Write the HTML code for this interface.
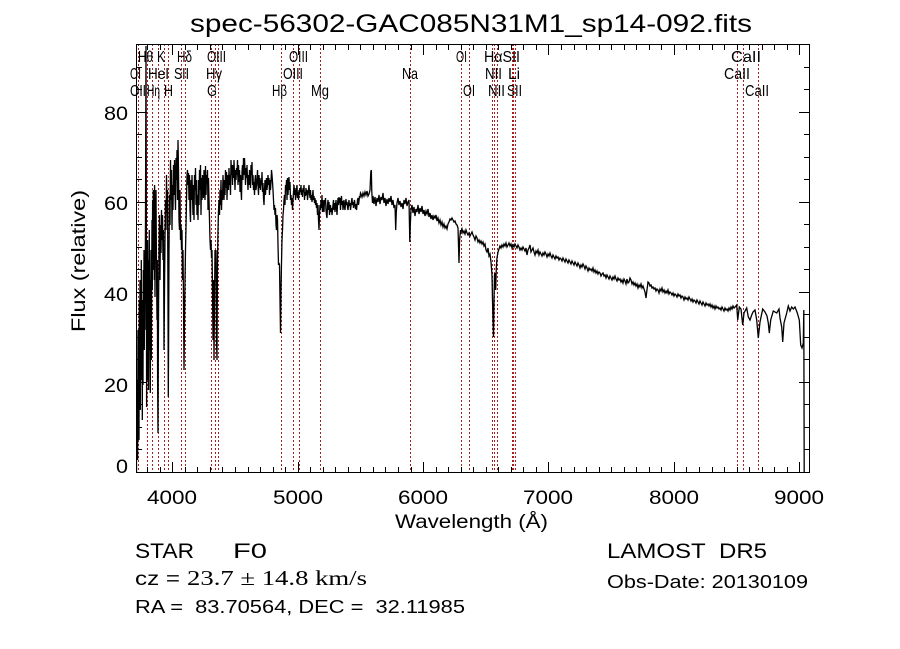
<!DOCTYPE html>
<html><head><meta charset="utf-8"><style>
html,body{margin:0;padding:0;background:#fff;}
svg{display:block;}
text{font-family:"Liberation Sans",sans-serif;fill:#000;}
</style></head><body>
<svg width="900" height="649" viewBox="0 0 900 649" xmlns="http://www.w3.org/2000/svg">
<rect width="900" height="649" fill="#fff"/>
<defs><clipPath id="pc"><rect x="136" y="44" width="674" height="429"/></clipPath></defs>

<text x="190" y="32" font-size="25" textLength="562" lengthAdjust="spacingAndGlyphs">spec-56302-GAC085N31M1_sp14-092.fits</text>

<g stroke="#a81e1e" stroke-width="1" stroke-dasharray="2,2" fill="none">
<path d="M138.5 44V472M147.5 44V472M152.5 44V472M158.5 44V472M164.5 44V472M168.5 44V472M181.5 44V472M185.5 44V472M211.5 44V472M215.5 44V472M218.5 44V472M281.5 44V472M293.5 44V472M299.5 44V472M320.5 44V472M410.5 44V472M461.5 44V472M469.5 44V472M492.5 44V472M494.5 44V472M497.5 44V472M512.5 44V472M513.5 44V472M515.5 44V472M737.5 44V472M743.5 44V472M758.5 44V472"/>
</g>

<g font-size="16">
<text x="138" y="62" textLength="15" lengthAdjust="spacingAndGlyphs">Hθ</text>
<text x="157" y="62" textLength="8" lengthAdjust="spacingAndGlyphs">K</text>
<text x="177" y="62" textLength="15" lengthAdjust="spacingAndGlyphs">Hδ</text>
<text x="207" y="62" textLength="19" lengthAdjust="spacingAndGlyphs">OIII</text>
<text x="289" y="62" textLength="19" lengthAdjust="spacingAndGlyphs">OIII</text>
<text x="456" y="62" textLength="11" lengthAdjust="spacingAndGlyphs">OI</text>
<text x="484" y="62" textLength="36" lengthAdjust="spacingAndGlyphs">HαSII</text>
<text x="731" y="62" textLength="30" lengthAdjust="spacingAndGlyphs">CaII</text>

<text x="130" y="79" textLength="11" lengthAdjust="spacingAndGlyphs">OI</text>
<text x="148" y="79" textLength="21" lengthAdjust="spacingAndGlyphs">HeI</text>
<text x="174" y="79" textLength="15" lengthAdjust="spacingAndGlyphs">SII</text>
<text x="206" y="79" textLength="16" lengthAdjust="spacingAndGlyphs">Hγ</text>
<text x="283" y="79" textLength="20" lengthAdjust="spacingAndGlyphs">OIII</text>
<text x="402" y="79" textLength="16" lengthAdjust="spacingAndGlyphs">Na</text>
<text x="485" y="79" textLength="17" lengthAdjust="spacingAndGlyphs">NII</text>
<text x="508" y="79" textLength="12" lengthAdjust="spacingAndGlyphs">Li</text>
<text x="724" y="79" textLength="26" lengthAdjust="spacingAndGlyphs">CaII</text>

<text x="130" y="96" textLength="16" lengthAdjust="spacingAndGlyphs">OII</text>
<text x="147" y="96" textLength="13" lengthAdjust="spacingAndGlyphs">Hη</text>
<text x="164" y="96" textLength="9" lengthAdjust="spacingAndGlyphs">H</text>
<text x="207" y="96" textLength="10" lengthAdjust="spacingAndGlyphs">G</text>
<text x="272" y="96" textLength="15" lengthAdjust="spacingAndGlyphs">Hβ</text>
<text x="311" y="96" textLength="18" lengthAdjust="spacingAndGlyphs">Mg</text>
<text x="463" y="96" textLength="12" lengthAdjust="spacingAndGlyphs">OI</text>
<text x="488" y="96" textLength="17" lengthAdjust="spacingAndGlyphs">NII</text>
<text x="507" y="96" textLength="15" lengthAdjust="spacingAndGlyphs">SII</text>
<text x="745" y="96" textLength="24" lengthAdjust="spacingAndGlyphs">CaII</text>
</g>

<g clip-path="url(#pc)">
<polyline fill="none" stroke="#000" stroke-width="1.3" stroke-linejoin="miter" points="
136.5,472 136.5,420 137,445 137.3,380 137.6,460 138,330 138.3,420 138.6,350 139,440 139.3,300 139.6,400 140,280 140.3,410 140.6,330 141,380 141.3,260 141.6,360 142,300 142.3,420 142.6,310 143,385 143.3,270 143.6,340 144,250 144.3,350 144.6,290 145,330 145.5,220 146,46 146.3,200 146.6,407 147,300 147.3,380 147.6,240 148,330 148.3,260 148.6,390 149,300 149.3,230 149.6,350 150,280 150.3,393 150.6,320 151,250 151.3,360 151.6,300 152,220 152.3,290 152.6,200 153,270 153.3,190 153.6,260 154,200 154.3,280 154.6,185 155,297 155.3,215 155.6,250 156,190 156.3,240 156.6,280 157,320 157.3,260 157.6,380 158,433 158.3,360 158.6,300 159,250 159.5,215 160,280 160.5,225 161,253 161.5,210 162,240 162.5,215 163,260 163.5,230 164,350 164.5,290 165,240 165.5,200 166,230 166.5,175 167,213 167.5,190 168,300 168.3,397 168.6,340 169,250 169.5,195 170,225 170.5,160 171,200 171.5,170 172,230 172.5,185 173,210 173.5,165 174,195 174.5,160 175,190 175.5,210 176,158 176.5,180 177,150 177.5,200 178,140 178.5,170 179,220 179.5,230 180,190 180.5,240 181,225 181.5,250 182,230 182.5,280 183,250 183.5,300 184,370 184.5,320 185,280 185.5,250 186,228 186.5,200 187,175 187.5,170 188,185 188.5,173 189,200 189.5,175 190,210 190.5,222 191,180 191.5,200 192,175 193,215 193.5,185 194,220 194.5,175 195,190 195.5,168 196,205 196.5,180 197,215 197.5,195 198,220 198.5,180 199,205 199.5,170 200,190 200.5,165 201,215 201.5,178 202,200 202.5,175 203,182 203.5,198 204,170 204.5,180 205,200 205.5,166 206,195 206.5,175 207,184 207.5,170 208,210 208.5,178 209,200 209.5,220 210,240 210.5,250 211,240 211.5,258 212,250 212.5,290 213,340 213.5,280 214,360 214.5,300 215,250 215.5,270 216,250 216.5,340 217,360 217.5,260 218,230 218.5,210 219,200 219.5,215 220,190 220.5,205 221,180 221.5,210 222,190 222.5,200 223,175 223.5,190 224,200 224.5,180 225,195 225.5,170 226,188 226.5,172 227,200 227.5,180 228,175 228.5,190 229,168 229.5,185 230,175 230.5,195 231,160 231.5,175 232,165 232.5,185 233,165 233.5,178 234,160 234.5,175 235,190 235.5,170 236,180 236.5,168 237,175 237.5,160 238,185 238.5,165 239,182 239.5,170 240,192 240.5,175 241,190 241.5,200 242,172 242.5,165 243,180 243.5,158 244,175 244.5,158 245,170 245.5,185 246,168 246.5,178 247,165 247.5,180 248,190 248.5,175 249,185 249.5,170 250,180 250.5,188 251,165 251.5,175 252,162 252.5,185 253,175 253.5,190 254,182 254.5,195 255,180 255.5,175 256,190 256.5,185 257,180 257.5,170 258,185 258.5,195 259,175 259.5,188 260,178 260.5,190 261,180 261.5,185 262,172 262.5,192 263,183 263.5,198 264,205 264.5,190 265,180 265.5,195 266,185 266.5,178 267,190 267.5,184 268,175 268.5,185 269,178 269.5,195 270,180 270.5,190 271,182 271.5,170 272,175 272.5,182 273,190 273.5,200 274,210 274.5,205 275,215 275.5,208 276,225 276.5,230 277,215 277.5,220 278,245 278.5,265 279,263 279.5,265 280,300 280.5,333 281,290 281.5,263 282,240 282.5,230 283,215 283.5,210 284,200 284.5,195 285,205 285.5,185 286,190 286.5,180 287,200 287.5,178 288,195 288.5,185 289,177 289.5,190 290,182 290.5,200 291,195 291.5,205 292,198 292.5,210 293,200 293.5,192 294,185 294.5,195 295,188 295.5,200 296,195 296.5,190 297,185 297.5,198 298,192 298.5,200 299,190 299.5,195 300,188 300.5,192 301,185 301.5,195 302,190 302.5,197 303,188 303.5,192 304,185 304.5,200 305,192 305.5,196 306,188 306.5,195 307,190 307.5,200 308,195 308.5,190 309,185 309.5,193 310,198 310.5,190 311,200 311.5,195 312,202 312.5,196 313,190 313.5,200 314,196 314.5,203 315,198 315.5,205 316,200 316.5,208 317,203 317.5,215 318,205 318.5,220 319,230 319.5,215 320,205 320.5,210 321,200 321.5,208 322,195 322.5,212 323,200 323.5,208 324,212 324.5,200 325,204 325.5,198 326,210 326.5,215 327,218 327.5,205 328,200 328.5,210 329,202 329.5,215 330,210 330.5,205 331,212 331.5,208 332,215 332.5,210 333,205 333.5,200 334,210 334.5,203 335,212 335.5,206 336,200 336.5,208 337,215 337.5,205 338,198 338.5,205 339,197 339.5,203 340,198 340.5,210 341,200 341.5,196 342,205 342.5,201 343,210 343.5,204 344,200 344.5,207 345,210 345.5,203 346,199 346.5,205 347,202 347.5,207 348,210 348.5,205 349,200 349.5,206 350,203 350.5,210 351,206 351.5,201 352,198 352.5,205 353,202 353.5,208 354,203 354.5,200 355,205 355.5,209 356,204 356.5,210 357,205 357.5,200 358,198 358.5,205 359,201 359.5,196 360,198 360.5,193
361,194 362,197 363,193 364,196 365,192 366,195 367,191 368,196 369,194 370,190 370.8,172 371.3,170 371.8,192 372.5,203 373,196 374,204 375,197 376,206 377,198 378,202 379,195 380,204 381,197 382,200 383,193 384,203 385,198 386,206 387,199 388,204 389,198 390,202 391,196 392,205 393,200 394,208 395,205 395.7,230 396.3,212 397,203 398,198 399,205 400,201 401,207 402,203 403,209 404,200 405,204 406,198 407,206 408,202 409,200 409.8,242 410.3,225 411,210 412,205 413,213 414,207 415,216 416,209 417,212 418,205 419,214 420,208 421,212 422,206 423,214 424,210 425,216 426,211 427,214 428,209 429,217 430,213 431,219 432,215 433,220 434,216 435,218 436,215 437,221 438,218 439,223 440,220 441,225 442,222 443,227 444,224 445,228 446,226 447,229 448,224 449,222 450,219 451,220 452,218 453,220 454,222 455,221 456,224 457,225 458,228 459,263 459.6,240 460.5,230 461,232 462,229 463,233 464,231 465,234 466,230 467,233 468,235 469,233 470,236 471,234 472,232 473,235 474,237 475,240 476,236 477,238 478,242 479,240 480,243 481,241 482,244 483,242 484,246 485,244 486,250 487,252 488,248 489,256 490,254 491,262 492,275 492.5,300 493,320 493.5,337 494,300 494.5,275 495,273 495.7,290 496.3,268 497,258 498,252 499,249 500,246 501,248 502,245 503,247 504,244 505,246 506,243 507,247 508,245 509,243 510,246 511,244 512,248 513,245 514,247 515,244 516,246 517,248 518,245 519,247 520,250 521,248 522,250 523,247 524,249 525,251 526,248 527,255 528,250 529,248 530,245 531,252 532,250 533,248 534,252 535,255 536,251 537,253 538,250 539,255 540,252 541,254 542,256 543,253 544,255 545,252 546,254 547,257 548,254 549,256 550,253 551,256 552,258 553,255 554,257 555,259 556,256 557,258 558,257 559,260 560,258 561,259 562,261 563,258 564,260 565,262 566,259 567,261 568,263 569,260 570,262 571,264 572,261 573,263 574,265 575,262 576,264 577,266 578,263 579,265 580,268 581,265 582,267 583,264 584,266 585,269 586,266 587,268 588,271 589,268 590,270
591,269 592,271 593,268 594,272 595,270 596,273 597,271 598,274 599,272 600,273 601,276 602,274 603,273 604,276 605,275 606,278 607,275 608,277 609,279 610,276 611,278 612,280 613,277 614,279 615,276 616,279 617,281 618,278 619,280 620,279 621,282 622,280 623,283 624,279 625,281 626,284 627,279 628,283 629,282 630,278 631,280 632,284 633,282 634,285 635,283 636,286 637,284 638,288 639,285 640,287 641,284 642,288 643,286 644,289 645,292 646,298 646.7,292 647.5,286 648,282 649,283 650,286 651,285 652,288 653,287 654,289 655,288 656,291 657,289 658,290 659,293 660,289 661,291 662,288 663,292 664,290 665,293 666,291 667,293 668,290 669,294 670,292 671,293 672,295 673,293 674,296 675,294 676,295 677,297 678,294 679,296 680,295 681,298 682,296 683,297 684,300 685,297 686,299 687,298 688,300 689,297 690,299 691,301 692,299 693,302 694,300 695,301 696,303 697,300 698,302 699,304 700,301 701,303 702,305 703,302 704,304 705,306 706,303 707,305 708,304 709,306 710,304 711,307 712,305 713,308 714,306 715,309 716,306 717,308 718,307 719,309 720,308 721,310 722,307 723,309 724,311 725,308 726,310 727,309 728,311 729,308 730,310 731,307 732,309 733,306 734,308 735,307 736.7,305 737.7,320 739.3,307 741,309 742.7,325 744,313 746.7,308 748.3,317 750,320 751.7,315 753,312 755,310 756.7,320 758.3,338 760,322 762.7,309 765,312 767,316 768.3,323 769.3,333 770.7,320 773.3,311 776.7,313 779,309 780,318 781.7,327 782.7,342 784,323 786.7,313 788.3,306 790,311 791.7,307 793.3,309 795,307 797.3,313 799.3,320 800.7,345 802,348 803.3,343 803.8,310 804.2,472"/>
</g>

<rect x="136.5" y="44.5" width="673" height="428" fill="none" stroke="#000" stroke-width="1"/>

<g stroke="#000" stroke-width="1" fill="none">
<path d="M147.5 472v-5M160.5 472v-5M172.5 472v-10M185.5 472v-5M197.5 472v-5M210.5 472v-5M222.5 472v-5M235.5 472v-5M248.5 472v-5M260.5 472v-5M273.5 472v-5M285.5 472v-5M298.5 472v-10M310.5 472v-5M323.5 472v-5M335.5 472v-5M348.5 472v-5M360.5 472v-5M373.5 472v-5M385.5 472v-5M398.5 472v-5M411.5 472v-5M423.5 472v-10M436.5 472v-5M448.5 472v-5M461.5 472v-5M473.5 472v-5M486.5 472v-5M498.5 472v-5M511.5 472v-5M523.5 472v-5M536.5 472v-5M548.5 472v-10M561.5 472v-5M574.5 472v-5M586.5 472v-5M599.5 472v-5M611.5 472v-5M624.5 472v-5M636.5 472v-5M649.5 472v-5M661.5 472v-5M674.5 472v-10M686.5 472v-5M699.5 472v-5M712.5 472v-5M724.5 472v-5M737.5 472v-5M749.5 472v-5M762.5 472v-5M774.5 472v-5M787.5 472v-5M799.5 472v-10"/>
<path d="M147.5 45v5M160.5 45v5M172.5 45v10M185.5 45v5M197.5 45v5M210.5 45v5M222.5 45v5M235.5 45v5M248.5 45v5M260.5 45v5M273.5 45v5M285.5 45v5M298.5 45v10M310.5 45v5M323.5 45v5M335.5 45v5M348.5 45v5M360.5 45v5M373.5 45v5M385.5 45v5M398.5 45v5M411.5 45v5M423.5 45v10M436.5 45v5M448.5 45v5M461.5 45v5M473.5 45v5M486.5 45v5M498.5 45v5M511.5 45v5M523.5 45v5M536.5 45v5M548.5 45v10M561.5 45v5M574.5 45v5M586.5 45v5M599.5 45v5M611.5 45v5M624.5 45v5M636.5 45v5M649.5 45v5M661.5 45v5M674.5 45v10M686.5 45v5M699.5 45v5M712.5 45v5M724.5 45v5M737.5 45v5M749.5 45v5M762.5 45v5M774.5 45v5M787.5 45v5M799.5 45v10"/>
<path d="M137 449.5h5M137 427.5h5M137 404.5h5M137 382.5h10M137 359.5h5M137 337.5h5M137 314.5h5M137 292.5h10M137 269.5h5M137 247.5h5M137 224.5h5M137 202.5h10M137 179.5h5M137 157.5h5M137 134.5h5M137 112.5h10M137 89.5h5M137 67.5h5"/>
<path d="M809 449.5h-5M809 427.5h-5M809 404.5h-5M809 382.5h-10M809 359.5h-5M809 337.5h-5M809 314.5h-5M809 292.5h-10M809 269.5h-5M809 247.5h-5M809 224.5h-5M809 202.5h-10M809 179.5h-5M809 157.5h-5M809 134.5h-5M809 112.5h-10M809 89.5h-5M809 67.5h-5"/>
</g>

<g font-size="19" text-anchor="end">
<text x="128" y="473" textLength="12" lengthAdjust="spacingAndGlyphs">0</text>
<text x="128" y="392" textLength="24" lengthAdjust="spacingAndGlyphs">20</text>
<text x="128" y="301" textLength="24" lengthAdjust="spacingAndGlyphs">40</text>
<text x="128" y="210" textLength="24" lengthAdjust="spacingAndGlyphs">60</text>
<text x="128" y="120" textLength="24" lengthAdjust="spacingAndGlyphs">80</text>
</g>

<g font-size="19" text-anchor="middle">
<text x="172" y="504" textLength="50" lengthAdjust="spacingAndGlyphs">4000</text>
<text x="298" y="504" textLength="50" lengthAdjust="spacingAndGlyphs">5000</text>
<text x="423" y="504" textLength="50" lengthAdjust="spacingAndGlyphs">6000</text>
<text x="548" y="504" textLength="50" lengthAdjust="spacingAndGlyphs">7000</text>
<text x="674" y="504" textLength="50" lengthAdjust="spacingAndGlyphs">8000</text>
<text x="799" y="504" textLength="50" lengthAdjust="spacingAndGlyphs">9000</text>
</g>

<text x="395" y="528" font-size="19" textLength="153" lengthAdjust="spacingAndGlyphs">Wavelength (Å)</text>
<text transform="translate(85,261) rotate(-90)" text-anchor="middle" font-size="19" textLength="142" lengthAdjust="spacingAndGlyphs">Flux (relative)</text>

<text x="135" y="558" font-size="21" textLength="59" lengthAdjust="spacingAndGlyphs">STAR</text>
<text x="233" y="558" font-size="21" textLength="34" lengthAdjust="spacingAndGlyphs">F0</text>
<text x="135" y="585" font-size="19" textLength="45" lengthAdjust="spacingAndGlyphs">cz =</text>
<text x="187" y="585" font-size="21" style="font-family:'Liberation Serif',serif" textLength="180" lengthAdjust="spacingAndGlyphs">23.7 ± 14.8 km/s</text>
<text x="135" y="613" font-size="18" textLength="330" lengthAdjust="spacingAndGlyphs">RA =&#160;&#160;83.70564, DEC =&#160;&#160;32.11985</text>
<text x="607" y="558" font-size="21" textLength="160" lengthAdjust="spacingAndGlyphs">LAMOST&#160;&#160;DR5</text>
<text x="607" y="588" font-size="18" textLength="201" lengthAdjust="spacingAndGlyphs">Obs-Date: 20130109</text>
</svg>
</body></html>
